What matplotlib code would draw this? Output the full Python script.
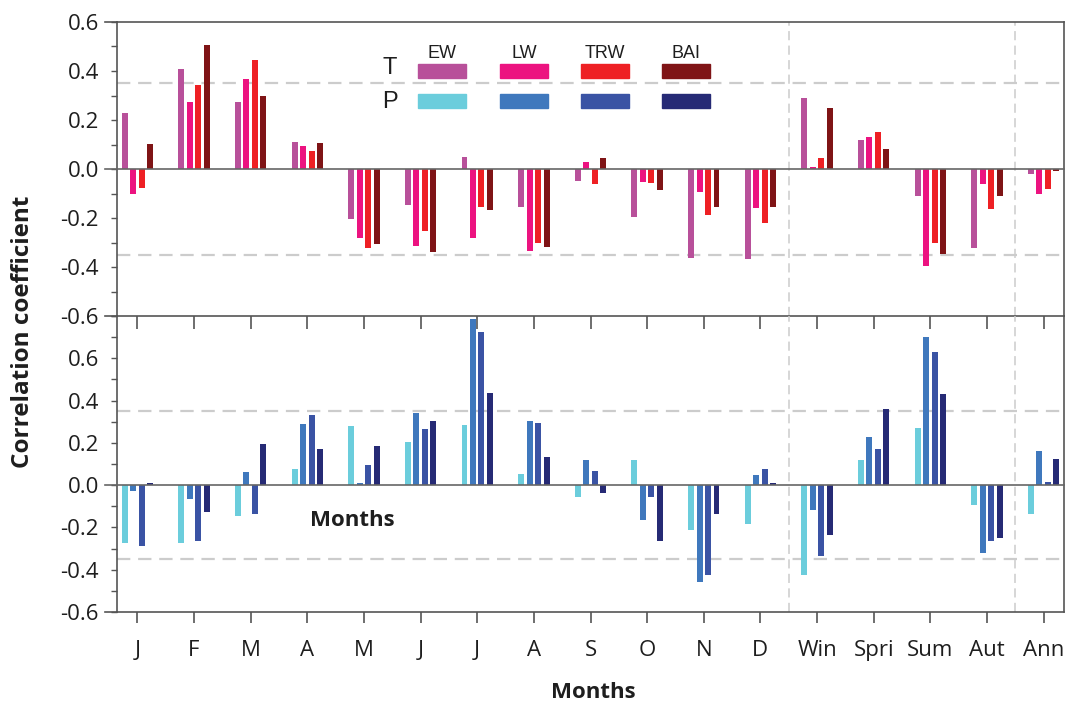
import numpy as np
import matplotlib.pyplot as plt
from matplotlib.patches import Rectangle
from matplotlib.ticker import MultipleLocator

plt.rcParams['font.family'] = ['Open Sans', 'DejaVu Sans']

# ---------------- data ----------------
labels = ['J', 'F', 'M', 'A', 'M', 'J', 'J', 'A', 'S', 'O', 'N', 'D',
          'Win', 'Spri', 'Sum', 'Aut', 'Ann']
series = ['EW', 'LW', 'TRW', 'BAI']

# temperature correlations
t_ew = [0.23, 0.408, 0.273, 0.11, -0.204, -0.147, 0.05, -0.154, -0.05, -0.197,
        -0.363, -0.369, 0.288, 0.118, -0.109, -0.324, -0.02]
t_lw = [-0.103, 0.273, 0.369, 0.095, -0.283, -0.314, -0.283, -0.335, 0.027, -0.053,
        -0.094, -0.159, 0.01, 0.131, -0.395, -0.063, -0.103]
t_trw = [-0.076, 0.344, 0.443, 0.075, -0.324, -0.252, -0.154, -0.303, -0.061, -0.057,
         -0.188, -0.219, 0.046, 0.15, -0.303, -0.163, -0.08]
t_bai = [0.102, 0.507, 0.30, 0.106, -0.307, -0.339, -0.169, -0.32, 0.044, -0.086,
         -0.156, -0.156, 0.248, 0.082, -0.347, -0.109, -0.008]

# precipitation correlations
p_ew = [-0.276, -0.276, -0.147, 0.074, 0.278, 0.204, 0.284, 0.052, -0.057, 0.12,
        -0.214, -0.183, -0.425, 0.121, 0.269, -0.096, -0.135]
p_lw = [-0.03, -0.066, 0.06, 0.29, 0.01, 0.341, 0.784, 0.302, 0.12, -0.164,
        -0.458, 0.047, -0.117, 0.228, 0.70, -0.321, 0.162]
p_trw = [-0.287, -0.265, -0.136, 0.332, 0.095, 0.265, 0.723, 0.295, 0.065, -0.058,
         -0.427, 0.074, -0.334, 0.173, 0.63, -0.265, 0.014]
p_bai = [0.008, -0.126, 0.194, 0.172, 0.185, 0.302, 0.434, 0.131, -0.036, -0.265,
         -0.135, 0.008, -0.238, 0.358, 0.433, -0.252, 0.126]

t_colors = ['#B8509A', '#EC1380', '#EE2024', '#7F1416']
p_colors = ['#6BCDDC', '#3F78BD', '#3A53A4', '#262A75']

sig = 0.35  # significance level

# ---------------- figure ----------------
fig = plt.figure(figsize=(10.67, 7.05), dpi=100)
left, right = 117 / 1067, 1064 / 1067
ax_t = fig.add_axes([left, 1 - 316 / 705, right - left, 294 / 705])
ax_p = fig.add_axes([left, 1 - 612 / 705, right - left, 296 / 705])
ax_p.set_facecolor('none')  # keep the upper panel's x ticks visible

x = np.arange(len(labels))
offsets = [-0.225, -0.075, 0.075, 0.225]
width = 0.105

spine_col = '#555555'
grid_col = '#CCCCCC'
txt_col = '#1E1E1E'

for ax, data, cols in [(ax_t, [t_ew, t_lw, t_trw, t_bai], t_colors),
                       (ax_p, [p_ew, p_lw, p_trw, p_bai], p_colors)]:
    for vals, off, c in zip(data, offsets, cols):
        ax.bar(x + off, vals, width, color=c, zorder=3)
    ax.set_xlim(-0.36, 16.36)
    ax.yaxis.set_major_locator(MultipleLocator(0.2))
    ax.yaxis.set_minor_locator(MultipleLocator(0.1))
    ax.tick_params(axis='y', which='both', direction='out', length=4, pad=9,
                   width=1, color=spine_col, labelsize=16, labelcolor=txt_col)
    for s in ax.spines.values():
        s.set_color(spine_col)
        s.set_linewidth(1.2)
    for yy in (sig, -sig):
        ax.axhline(yy, color=grid_col, lw=1.6, ls=(0, (6, 3.5)), zorder=1)
    for xx in (11.5, 15.5):
        ax.axvline(xx, color=grid_col, lw=1.1, ls=(0, (6, 3.5)), zorder=1)
    # zero line reaching a bit past the left spine
    ax.plot([-0.013, 1], [0, 0], transform=ax.get_yaxis_transform(),
            color='#666666', lw=1.2, clip_on=False, zorder=4)
    ax.set_xticks(x)

ax_t.set_ylim(-0.6, 0.6)
ax_t.set_yticks(np.arange(-0.6, 0.61, 0.2))
ax_t.set_yticklabels(['%.1f' % v for v in np.arange(-0.6, 0.61, 0.2)])
ax_t.tick_params(axis='x', direction='out', length=9, width=1.2,
                 color=spine_col, labelbottom=False)

ax_p.set_ylim(-0.6, 0.8)
ax_p.set_yticks(np.arange(-0.6, 0.61, 0.2))
ax_p.set_yticklabels(['%.1f' % v for v in np.arange(-0.6, 0.61, 0.2)])
ax_p.yaxis.set_minor_locator(MultipleLocator(0.1))
ax_p.tick_params(axis='x', direction='out', length=8, width=1.2,
                 color=spine_col, labelsize=16, labelcolor=txt_col, pad=12)
ax_p.set_xticklabels(labels)
ax_p.spines['top'].set_visible(False)

# panel edges extending left of the spine
for ax, yy in [(ax_t, 0.6), (ax_t, -0.6), (ax_p, -0.6)]:
    ax.plot([-0.013, 0], [yy, yy], transform=ax.get_yaxis_transform(),
            color=spine_col, lw=1.2, clip_on=False)

fig.text(23 / 1067, 1 - 332 / 705, 'Correlation coefficient', rotation=90,
         ha='center', va='center', fontsize=17.5, fontweight='bold', color=txt_col)
fig.text(593 / 1067, 1 - 693 / 705, 'Months', ha='center', va='center',
         fontsize=16, fontweight='bold', color=txt_col)
fig.text(352 / 1067, 1 - 521 / 705, 'Months', ha='center', va='center',
         fontsize=16, fontweight='bold', color=txt_col)

# legend block: T row / P row
axw = 947
x0s = [418, 500, 581, 662]
for i, name in enumerate(series):
    xa = (x0s[i] - 117) / axw
    w = 48 / axw
    ax_t.add_patch(Rectangle((xa, 1 - (78 - 22) / 294), w, 14 / 294,
                             transform=ax_t.transAxes, color=t_colors[i], zorder=5))
    ax_t.add_patch(Rectangle((xa, 1 - (108 - 22) / 294), w, 14 / 294,
                             transform=ax_t.transAxes, color=p_colors[i], zorder=5))
    ax_t.text(xa + w / 2, 1 - (53 - 22) / 294, name, transform=ax_t.transAxes,
              ha='center', va='center', fontsize=13, family='Liberation Sans',
              color=txt_col)
ax_t.text((390 - 117) / axw, 1 - (68 - 22) / 294, 'T', transform=ax_t.transAxes,
          ha='center', va='center', fontsize=17, family='Liberation Sans', color=txt_col)
ax_t.text((390 - 117) / axw, 1 - (102 - 22) / 294, 'P', transform=ax_t.transAxes,
          ha='center', va='center', fontsize=17, family='Liberation Sans', color=txt_col)

fig.savefig('out.png', dpi=100)
